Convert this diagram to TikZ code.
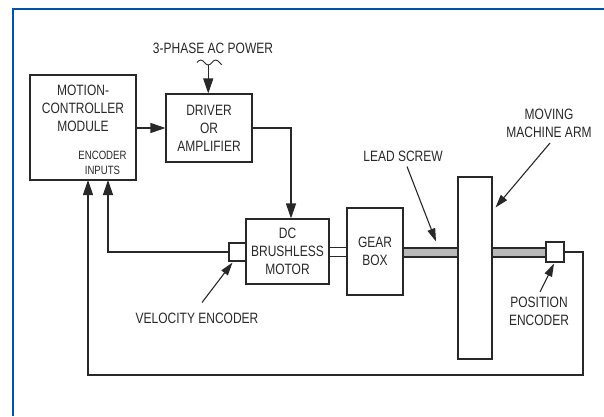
\documentclass[tikz,border=0pt]{standalone}
\usepackage{fontspec}
\setmainfont[FakeStretch=0.8]{Liberation Sans}
\usetikzlibrary{arrows.meta,calc}
\definecolor{frameblue}{RGB}{0,84,166}
\definecolor{ink}{RGB}{40,40,40}
\definecolor{screwgray}{RGB}{185,185,185}
\tikzset{
  blk/.style={draw=ink, line width=1.1pt, inner sep=0pt, align=center, text=ink,
    font=\fontsize{15}{18}\selectfont},
  lbl/.style={inner sep=0pt, align=center, text=ink, font=\fontsize{15}{18}\selectfont},
  small/.style={inner sep=0pt, align=center, text=ink, font=\fontsize{12}{15}\selectfont},
  wire/.style={draw=ink, line width=1.1pt},
  arr/.style={wire, -{Triangle[length=15pt,width=10pt]}},
  sarr/.style={wire, -{Triangle[length=13pt,width=8pt]}},
}
\begin{document}
\begin{tikzpicture}[x=1pt,y=-1pt]
\useasboundingbox (0,0) rectangle (604,416);
% frame
\draw[frameblue, line width=2.6pt] (13,416) -- (13,9) -- (604,9);

% blocks
\node[blk, minimum width=106pt, minimum height=105pt] (mcm) at (83,127.5) {};
\node[lbl] (mcmtxt) at (83,108.5) {MOTION-\\CONTROLLER\\MODULE};
\node[small] (enctxt) at (102.5,162.5) {ENCODER\\INPUTS};

\node[blk, minimum width=86pt, minimum height=68pt] (driver) at (209,128) {DRIVER\\OR\\AMPLIFIER};
\node[blk, minimum width=83pt, minimum height=65pt] (motor) at (287.5,251.5) {DC\\BRUSHLESS\\MOTOR};
\node[blk, minimum width=56pt, minimum height=87pt] (gear) at (375,251.5) {GEAR\\BOX};

% shafts
\node[blk, minimum width=18pt, minimum height=9pt] (shaft) at (338,252) {};
\node[blk, fill=screwgray, minimum width=55pt, minimum height=9pt] (screw1) at (430.5,252.5) {};
\node[blk, fill=screwgray, minimum width=54pt, minimum height=9pt] (screw2) at (519,252.5) {};

\node[blk, fill=white, minimum width=34pt, minimum height=182pt] (arm) at (475,268) {};

\node[blk, fill=white, minimum width=17pt, minimum height=18pt] (venc) at (237.5,252) {};
\node[blk, fill=white, minimum width=18pt, minimum height=20pt] (penc) at (555,252) {};

% power input
\node[lbl] (power) at (213,48) {3-PHASE AC POWER};
\coordinate (w0) at (197,62.5);
\draw[wire, line width=0.9pt] (w0) sin (200.75,60) cos (204.5,62.5) sin (208.25,65) cos (212,62.5)
  sin (215.75,60) cos (219.5,62.5) sin (222,64.5);
\coordinate (pwr) at (208.25,65);
\draw[arr] (pwr) -- (pwr |- driver.north);

% signal connectors
\draw[arr] (mcm.east |- driver.west) -- (driver.west);
\draw[arr] (driver.east) -| ([xshift=3.5pt]motor.north);

\coordinate (in1) at (88,180);
\coordinate (in2) at (108,180);
\coordinate (fbcorner) at (583,375);
\draw[arr] (venc.west) -| (in2);
\draw[arr] (penc.east) -| (fbcorner) -| (in1);

% labels with pointers
\node[lbl] (velab) at (197,318) {VELOCITY ENCODER};
\draw[sarr] ([xshift=5pt,yshift=10pt]velab.north) -- ([xshift=4pt,yshift=-1pt]venc.south west);

\node[lbl] (lslab) at (403,156) {LEAD SCREW};
\draw[sarr] ([xshift=4pt,yshift=-5pt]lslab.south) -- ([xshift=5.5pt,yshift=6pt]screw1.north);

\node[lbl] (armlab) at (549,123.5) {MOVING\\MACHINE ARM};
\draw[sarr] ([xshift=1pt,yshift=-5pt]armlab.south) -- ([xshift=3pt,yshift=-31pt]arm.north east);

\node[lbl] (poslab) at (539,311.5) {POSITION\\ENCODER};
\draw[sarr] ([xshift=1pt,yshift=5pt]poslab.north) -- ([xshift=-1pt,yshift=-1pt]penc.south);
\end{tikzpicture}
\end{document}
